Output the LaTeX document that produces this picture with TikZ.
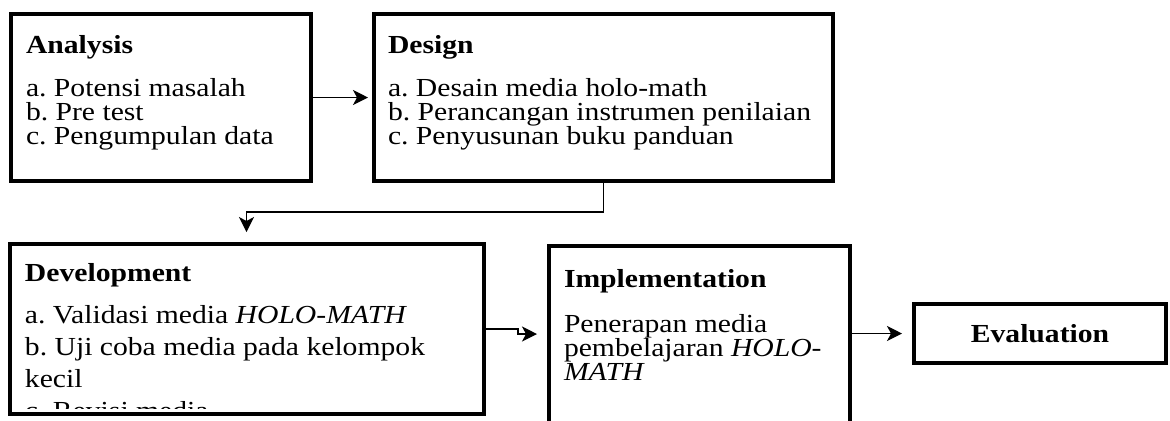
\documentclass[tikz,border=0pt]{standalone}
\usepackage{fontspec}
\setmainfont{Liberation Serif}[FakeStretch=1.14, ItalicFeatures={FakeStretch=1.14}, BoldFeatures={FakeStretch=1.14}]
\usetikzlibrary{arrows.meta,calc}
\frenchspacing
\begin{document}
\begin{tikzpicture}[x=0.5pt,y=-0.5pt,
  font=\fontsize{13}{14}\selectfont,
  box/.style={draw, line width=2pt, inner sep=0pt, outer sep=1pt},
  txt/.style={anchor=base west, inner sep=0pt, outer sep=0pt},
  head/.style={txt, font=\fontsize{13}{14}\selectfont\bfseries},
  conn/.style={line width=0.7pt, -{Stealth[length=7.5pt,width=7.5pt,inset=2pt]}}]
\clip (0,0) rectangle (1170,420);
\fill[white] (0,0) rectangle (1170,420);
% boxes
\node[box, minimum width=150pt, minimum height=83.5pt] (ana) at (161,97.5) {};
\node[box, minimum width=229.5pt, minimum height=83.5pt] (des) at (603.5,97.5) {};
\node[box, minimum width=237pt, minimum height=85pt] (dev) at (246.5,329) {};
\node[box, minimum width=150.5pt, minimum height=116pt] (imp) at (699.5,362) {};
\node[box, minimum width=126pt, minimum height=29.5pt] (eva) at (1040,333.5) {};
% Analysis
\node[head] (anah) at (26,53) {Analysis};
\node[txt] (ana1) at (26,96) {a. Potensi masalah};
\node[txt] (ana2) at (26,120) {b. Pre test};
\node[txt] (ana3) at (26,144) {c. Pengumpulan data};
% Design
\node[head] (desh) at (388,53) {Design};
\node[txt] (des1) at (388,96) {a. Desain media holo-math};
\node[txt] (des2) at (388,120) {b. Perancangan instrumen penilaian};
\node[txt] (des3) at (388,144) {c. Penyusunan buku panduan};
% Development (text clipped by the box)
\begin{scope}
\clip (10,244) rectangle (483,408);
\node[head] (devh) at (25,281) {Development};
\node[txt] (dev1) at (25,323) {a. Validasi media \textit{HOLO-MATH}};
\node[txt] (dev2) at (25,355) {b. Uji coba media pada kelompok};
\node[txt] (dev3) at (25,387) {kecil};
\node[txt] (dev4) at (25,419) {c. Revisi media};
\end{scope}
% Implementation
\node[head] (imph) at (564,287) {Implementation};
\node[txt] (imp1) at (564,332) {Penerapan media};
\node[txt] (imp2) at (564,356) {pembelajaran \textit{HOLO-}};
\node[txt] (imp3) at (564,380) {\textit{MATH}};
% Evaluation
\node[anchor=base, inner sep=0pt, font=\fontsize{13}{14}\selectfont\bfseries] (evah) at (1040,342) {Evaluation};
% connectors
\coordinate (c1) at (603.5,212);
\coordinate (k1) at (518,329);
\coordinate (k2) at (518,334);
\draw[conn, shorten >=2pt] (ana.east) -- (des.west);
\draw[conn, shorten >=5pt] (des.south) -- (c1) -| (dev.north);
\draw[conn, shorten >=5pt] (dev.east) -- (k1) -- (k2) -- (k2 -| imp.west);
\draw[conn, shorten >=5pt] (imp.east |- eva.west) -- (eva.west);
\end{tikzpicture}
\end{document}
